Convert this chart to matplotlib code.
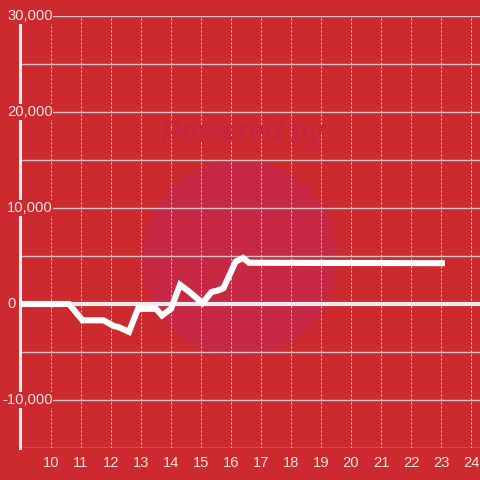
import matplotlib
matplotlib.use("Agg")
import matplotlib.pyplot as plt
from matplotlib.patches import Circle

# data
hours = [9.0, 10.6, 11.05, 11.75, 12.1, 12.25, 12.6, 12.9, 13.5, 13.7, 14.0, 14.3,
         14.6, 15.05, 15.35, 15.55, 15.75, 16.15, 16.4, 16.6, 23.13]
balance = [0, 0, -1700, -1700, -2300, -2400, -2900, -500, -500, -1200, -500, 2000,
           1300, 100, 1250, 1400, 1650, 4400, 4800, 4300, 4250]

x_ticks = list(range(10, 25))
y_ticks = [-10000, 0, 10000, 20000, 30000]
y_grid = list(range(-15000, 30001, 5000))

bg = "#cc2a2f"
txt = "#f3e2e2"

plt.rcParams["font.family"] = ["Liberation Sans", "DejaVu Sans"]

fig = plt.figure(figsize=(4.8, 4.8), dpi=100, facecolor=bg)
ax = fig.add_axes([21 / 480, 32 / 480, 459 / 480, 432 / 480])
ax.set_facecolor(bg)
ax.set_xlim(9, 9 + 459 / 30)
ax.set_ylim(-15000, 30000)

# watermark
ax.add_patch(Circle((240 / 480, 1 - 258 / 480), 98 / 480, transform=fig.transFigure,
                    facecolor="#c72843", edgecolor="none", zorder=0.5, clip_on=False))
fig.text(243 / 480, 1 - 133 / 480, "Powered by", ha="center", va="center",
         fontsize=21, fontweight="bold", fontstyle="italic", color="#c52540", zorder=0.6)

# grid
for g in y_grid:
    if g == 0:
        continue
    ax.axhline(g, color="#d2c4c4", lw=1.0, zorder=1)
for t in x_ticks:
    ax.axvline(t, color="#e6d8d8", lw=0.72, ls=(0, (2, 2)), zorder=1)
ax.axhline(0, color="#f1ecec", lw=3, zorder=2)

ax.plot(hours, balance, color="white", lw=4.4, solid_joinstyle="miter",
        solid_capstyle="butt", zorder=3)

for s in ["top", "right", "bottom"]:
    ax.spines[s].set_visible(False)
ax.spines["left"].set_color("#f3eeee")
ax.spines["left"].set_linewidth(2.2)
ax.spines["left"].set_bounds(-15000, 29200)
ax.spines["left"].set_position(("outward", 0.5))

ax.set_yticks([])
ax.set_xticks(x_ticks)
ax.set_xticklabels([str(t) for t in x_ticks], color=txt, fontsize=10.6)
ax.tick_params(axis="x", length=0, pad=6)

for v in y_ticks:
    px = 7 if v >= 0 else 2
    ax.text((px - 21) / 459, v, f"{v:,}", transform=ax.get_yaxis_transform(),
            ha="left", va="center", fontsize=10.6, color=txt, zorder=5, clip_on=False,
            bbox=dict(facecolor=bg, edgecolor="none", pad=0.5))

fig.savefig("out.png", dpi=100, facecolor=bg)
